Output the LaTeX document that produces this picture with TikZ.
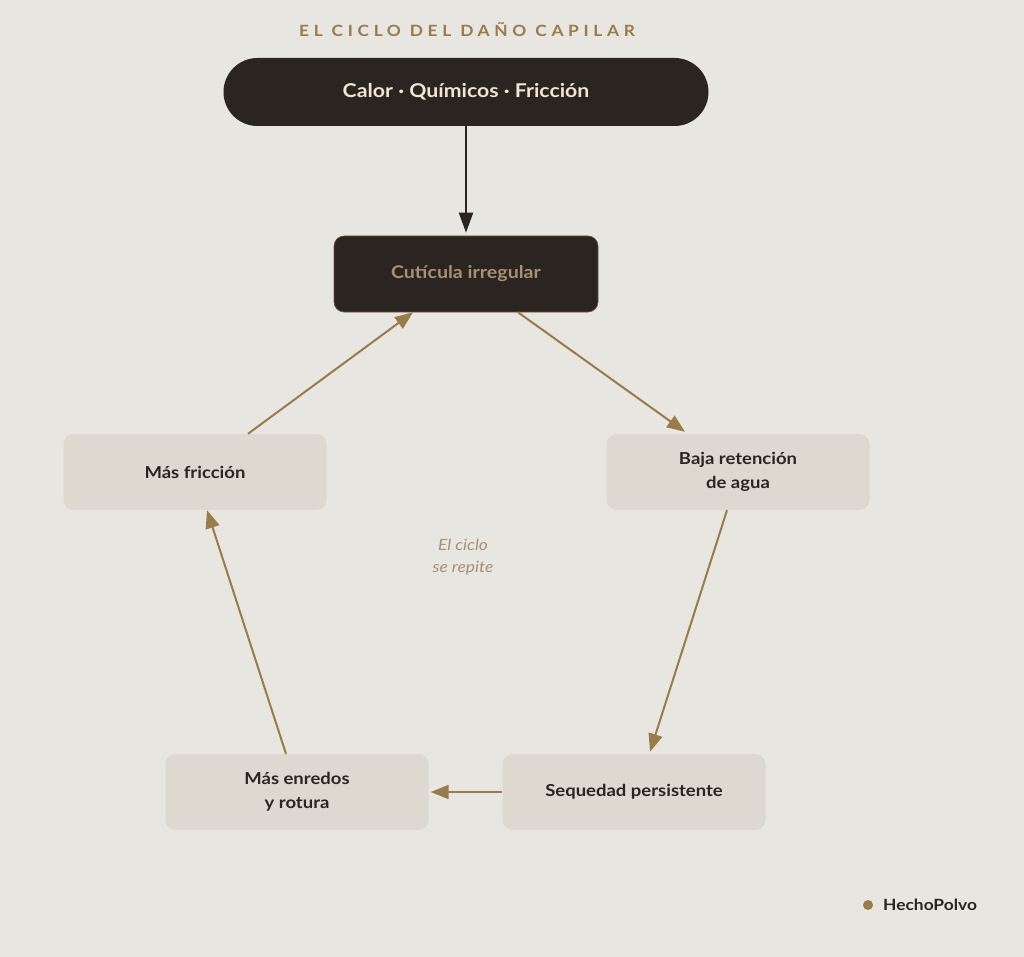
\documentclass[tikz,border=0pt]{standalone}
\usepackage{fontspec}
\setmainfont{Lato}[FakeStretch=1.12]
\usetikzlibrary{arrows.meta,calc}
\definecolor{bg}{HTML}{E8E6E1}
\definecolor{dark}{HTML}{2A2520}
\definecolor{gold}{HTML}{9A7B4A}
\definecolor{boxfill}{HTML}{DDD8D0}
\definecolor{cream}{HTML}{F0E6D6}
\definecolor{muted}{HTML}{A89070}
\definecolor{ink}{HTML}{2A2520}
\tikzset{
  cyclebox/.style={rectangle, rounded corners=10pt, fill=boxfill, minimum width=263pt, minimum height=76pt, align=center, font=\fontsize{16.5}{24}\selectfont\bfseries, text=ink},
  goldarrow/.style={draw=gold, line width=2pt, -{Triangle[length=18pt,width=14pt]}},
}
\begin{document}
\begin{tikzpicture}[x=1pt,y=-1pt]
\fill[bg] (0,0) rectangle (1024,957);
\useasboundingbox (0,0) rectangle (1024,957);
\node[text=gold, font=\fontsize{15.5}{18}\selectfont\bfseries\addfontfeatures{LetterSpace=30}] (title) at (467,30) {EL CICLO DEL DAÑO CAPILAR};
\node[rectangle, rounded corners=34pt, fill=dark, minimum width=485pt, minimum height=68pt, text=cream, font=\fontsize{19}{22}\selectfont\bfseries] (src) at (466,92) {Calor · Químicos · Fricción};
\node[rectangle, rounded corners=10pt, fill=dark, draw=gold!60!dark, line width=0.6pt, minimum width=264pt, minimum height=76pt, text=muted, font=\fontsize{17.5}{22}\selectfont\bfseries] (cut) at (466,274) {Cutícula irregular};
\node[cyclebox] (fric) at (195,472) {Más fricción};
\node[cyclebox] (baja) at (738,472) {Baja retención\\de agua};
\node[cyclebox] (seq) at (634,792) {Sequedad persistente};
\node[cyclebox] (enr) at (297,792) {Más enredos\\y rotura};
\node[text=muted, font=\fontsize{15.5}{22}\selectfont\itshape, align=center] (rep) at (463,557) {El ciclo\\se repite};
\draw[draw=dark, line width=2pt, -{Triangle[length=20pt,width=14pt]}] (src.south) -- ([yshift=3pt]cut.north);
\draw[goldarrow] ([xshift=52pt]cut.south) -- ([xshift=-53pt,yshift=2pt]baja.north);
\draw[goldarrow] ([xshift=-11pt]baja.south) -- ([xshift=16pt,yshift=2pt]seq.north);
\draw[goldarrow] (seq.west) -- ([xshift=2pt]enr.east);
\draw[goldarrow] ([xshift=-11pt]enr.north) -- ([xshift=12pt]fric.south);
\draw[goldarrow] ([xshift=53pt]fric.north) -- ([xshift=-53pt]cut.south);
\fill[gold] (868,905) circle (5pt);
\node[anchor=west, text=ink, font=\fontsize{15.5}{18}\selectfont\bfseries, inner sep=0pt] (brand) at (883,905) {HechoPolvo};
\end{tikzpicture}
\end{document}
